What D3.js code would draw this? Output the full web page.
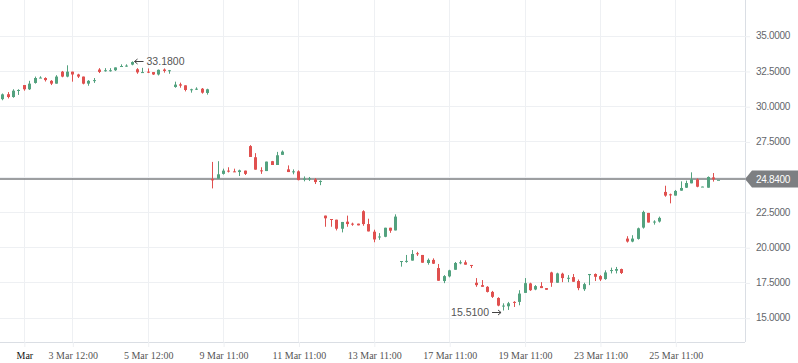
<!DOCTYPE html>
<html>
<head>
<meta charset="utf-8">
<script src="https://cdn.jsdelivr.net/npm/d3@7"></script>
<style>
  body { margin: 0; background: #fff; }
  svg { display: block; }
</style>
</head>
<body>
<div class="chart"></div>
<script>
// hourly candles, 27 Feb -> 26 Mar
var opens  = [30.5,30.85,30.65,31.1,31.5,31.2,31.65,32.0,32.0,31.8,31.6,32.45,32.1,32.45,32.25,32.1,31.6,31.8,32.6,32.5,
              32.5,32.55,32.82,32.85,32.95,32.62,32.4,32.45,32.42,32.25,32.6,32.52,31.36,31.55,31.48,31.13,31.2,31.24,30.94,
              24.83,24.86,25.2,25.43,25.38,25.33,25.43,27.17,26.38,25.45,25.4,26.1,25.83,26.55,25.52,25.33,25.38,24.8,24.84,24.81,24.66,
              22.24,22.0,21.95,21.31,21.81,21.67,21.67,22.55,21.64,21.1,20.7,20.74,21.38,21.19,
              18.98,18.97,19.05,19.57,19.45,18.88,19.1,18.52,17.6,17.93,18.4,18.88,18.93,18.74,
              17.48,17.31,17.19,16.83,16.4,15.8,15.81,16.12,16.12,16.76,17.43,17.0,17.24,17.1,
              18.21,17.48,18.12,17.76,17.88,17.6,17.02,18.02,18.1,17.95,17.74,18.31,18.33,18.45,
              20.61,20.4,20.59,21.39,22.43,21.75,21.82,23.92,23.75,23.66,24.01,24.22,24.53,24.81,24.27,24.22,24.95,24.78]
var highs  = [30.9,31.0,31.2,31.2,31.5,31.8,32.1,32.12,32.05,31.85,32.2,32.5,32.9,32.45,32.3,32.1,31.85,32.0,32.7,32.7,
              32.7,32.75,32.97,32.97,33.18,32.7,32.72,32.68,32.42,32.6,32.68,32.57,31.74,31.67,31.48,31.24,31.34,31.29,31.24,
              26.05,26.1,25.57,25.67,25.57,25.5,25.43,27.24,26.67,25.67,26.07,26.12,26.76,26.86,25.8,25.52,25.45,25.02,24.98,24.9,24.74,
              22.24,22.0,21.95,21.79,22.24,21.74,21.67,22.62,22.02,21.24,21.0,21.38,21.38,22.33,
              19.02,19.45,19.8,19.67,19.45,19.2,19.21,18.81,18.02,18.4,18.95,19.07,19.07,18.74,
              17.81,17.67,17.24,16.9,16.45,16.02,16.12,16.17,16.95,17.81,17.48,17.31,17.52,17.1,
              18.26,18.19,18.19,18.02,18.1,17.71,17.48,18.1,18.14,18.02,18.36,18.55,18.6,18.48,
              20.78,20.85,21.39,22.59,22.43,21.91,22.17,24.36,23.8,24.06,24.67,24.72,25.31,24.88,24.3,25.02,25.26,24.78]
var lows   = [30.42,30.55,30.6,30.8,31.1,31.15,31.6,32.0,31.75,31.5,31.6,32.05,32.05,31.74,32.0,31.55,31.45,31.65,32.35,32.45,
              32.45,32.5,32.82,32.8,32.9,32.3,32.38,32.35,32.22,32.18,32.38,32.3,31.31,31.31,31.05,30.96,31.15,30.89,30.82,
              24.17,24.86,25.15,25.3,25.33,25.05,25.12,26.4,25.5,25.2,25.4,25.83,25.83,26.55,25.33,25.17,24.74,24.67,24.7,24.48,24.4,
              21.45,21.45,21.19,21.05,21.45,21.52,21.55,21.52,21.12,20.35,20.52,20.71,21.02,21.19,
              18.62,18.9,19.05,19.38,18.9,18.76,18.81,17.62,17.45,17.86,18.4,18.79,18.76,18.52,
              17.19,17.19,16.79,16.4,15.81,15.51,15.55,15.76,15.88,16.76,16.9,16.95,17.1,16.98,
              17.19,17.48,17.52,17.52,17.55,16.95,16.9,17.31,17.6,17.6,17.69,18.14,18.14,18.1,
              20.33,20.35,20.54,21.32,21.75,21.6,21.75,23.58,23.11,23.66,24.01,24.2,24.53,24.25,24.27,24.22,24.65,24.78]
var closes = [30.84,30.65,31.1,31.15,31.2,31.6,32.0,32.03,31.85,31.6,32.1,32.1,32.45,32.25,32.1,31.6,31.8,31.85,32.43,32.55,
              32.55,32.75,32.85,32.88,33.13,32.4,32.42,32.4,32.25,32.58,32.5,32.55,31.53,31.46,31.15,31.2,31.24,30.96,31.2,
              24.74,25.17,25.43,25.37,25.33,25.45,25.2,26.4,25.5,25.38,26.07,25.83,26.52,26.78,25.33,25.38,24.76,24.86,24.88,24.62,24.7,
              22.05,21.95,21.31,21.79,21.64,21.6,21.55,21.64,21.12,20.55,20.76,21.38,21.17,22.17,
              19.02,19.03,19.52,19.5,18.9,19.1,18.83,17.62,17.95,18.36,18.88,18.93,18.76,18.69,
              17.31,17.19,16.83,16.48,15.86,15.86,16.02,16.07,16.71,17.45,16.95,17.24,17.1,16.98,
              17.48,18.14,17.81,17.83,17.55,17.1,17.38,18.1,17.9,17.71,18.21,18.38,18.45,18.17,
              20.4,20.61,21.34,22.5,21.75,21.82,22.08,23.66,23.7,23.99,24.2,24.55,24.81,24.29,24.3,24.98,24.81,24.78]

var tickIdx    = [4, 13, 27, 41, 55, 69, 83, 97, 111, 125]
var tickLabels = ["Mar", "3 Mar 12:00", "5 Mar 12:00", "9 Mar 11:00", "11 Mar 11:00",
                  "13 Mar 11:00", "17 Mar 11:00", "19 Mar 11:00", "23 Mar 11:00", "25 Mar 11:00"]
var yTicks = [15, 17.5, 20, 22.5, 25, 27.5, 30, 32.5, 35]
var lastPrice = 24.84
var maxIdx = 24, maxVal = 33.18
var minIdx = 93, minVal = 15.51

var width = 798, height = 363
var plotW = 745, plotH = 342
var up = "#53a27f", down = "#e0504f"
var grid = "#eef0f3", border = "#dadee4"
var noteFont = "Liberation Sans, Arial, sans-serif"

var data = opens.map(function (o, i) {
  return { i: i, o: o, h: highs[i], l: lows[i], c: closes[i] }
})

var svg = d3.select(".chart")
  .append("svg")
    .attr("width", width)
    .attr("height", height)

// scales
var x = d3.scaleLinear().domain([0, 133]).range([2.33, 718.4])
var y = d3.scaleLinear().domain([15, 35]).range([317.7, 35.7])
var py = Math.round(y(lastPrice))

// grid
svg.append("g").selectAll("line").data(yTicks).join("line")
  .attr("x1", 0).attr("x2", plotW)
  .attr("y1", d => Math.round(y(d)) + 0.5).attr("y2", d => Math.round(y(d)) + 0.5)
  .attr("stroke", grid)
svg.append("g").selectAll("line").data(tickIdx).join("line")
  .attr("y1", 0).attr("y2", plotH)
  .attr("x1", d => Math.round(x(d)) + 0.5).attr("x2", d => Math.round(x(d)) + 0.5)
  .attr("stroke", grid)

// frame
svg.append("line").attr("x1", plotW + 0.5).attr("x2", plotW + 0.5).attr("y1", 0).attr("y2", plotH)
  .attr("stroke", border)
svg.append("line").attr("x1", 0).attr("x2", plotW).attr("y1", plotH + 0.5).attr("y2", plotH + 0.5)
  .attr("stroke", border)

// right axis (the label hidden under the price tag is left out)
var yAxis = svg.append("g")
  .attr("transform", `translate(${plotW},0)`)
  .call(d3.axisRight(y).tickValues(yTicks.filter(d => Math.abs(y(d) - py) > 12))
    .tickSize(5).tickPadding(6).tickFormat(d3.format(".4f")))
yAxis.select(".domain").remove()
yAxis.selectAll("line").attr("stroke", grid).attr("transform", "translate(0,0.5)")
yAxis.selectAll("text")
  .attr("fill", "#63666b")
  .attr("font-family", noteFont)
  .attr("font-size", "10px")
  .attr("letter-spacing", "-0.3")

// bottom axis
var xAxis = svg.append("g")
  .attr("transform", `translate(0.5,${plotH})`)
  .call(d3.axisBottom(x).tickValues(tickIdx).tickSize(5).tickPadding(5)
    .tickFormat((d, i) => tickLabels[i]))
xAxis.select(".domain").remove()
xAxis.selectAll("line").attr("stroke", grid)
xAxis.selectAll("text")
  .attr("fill", (d, i) => i === 0 ? "#111" : "#555")
  .attr("font-family", "Liberation Serif, Times New Roman, serif")
  .attr("font-size", "10px")

// last price line
svg.append("line")
  .attr("x1", 0).attr("x2", plotW)
  .attr("y1", py).attr("y2", py)
  .attr("stroke", "#7d7f82").attr("stroke-width", 1.5)

// candles
var candles = svg.append("g").selectAll("g").data(data).join("g")
candles.append("line")
  .attr("x1", d => Math.round(x(d.i)) + 0.5).attr("x2", d => Math.round(x(d.i)) + 0.5)
  .attr("y1", d => y(d.h)).attr("y2", d => y(d.l))
  .attr("stroke", d => d.c >= d.o ? up : down)
candles.append("rect")
  .attr("x", d => Math.round(x(d.i)) - 1)
  .attr("width", 3)
  .attr("y", d => y(Math.max(d.o, d.c)))
  .attr("height", d => Math.max(1, Math.abs(y(d.o) - y(d.c))))
  .attr("fill", d => d.c >= d.o ? up : down)

// high / low annotations with small arrows
function arrow(x1, x2, yy) {
  // arrow from x1 pointing at x2
  var dir = x2 > x1 ? -1 : 1
  var g = svg.append("g").attr("stroke", "#444").attr("fill", "none").attr("stroke-width", 1)
  g.append("line").attr("x1", x1).attr("x2", x2).attr("y1", yy).attr("y2", yy)
  g.append("path").attr("d", `M${x2 + dir * 3},${yy - 2.5} L${x2},${yy} L${x2 + dir * 3},${yy + 2.5}`)
}
var hx = x(maxIdx), hy = Math.round(y(maxVal)) + 0.5
arrow(hx + 12, hx + 3, hy)
svg.append("text").attr("x", hx + 15).attr("y", hy).attr("dy", "0.35em")
  .attr("font-family", noteFont).attr("font-size", "10.5px").attr("fill", "#555")
  .text("33.1800")
var lx = x(minIdx), ly = Math.round(y(minVal)) + 1.5
arrow(lx - 11, lx - 2, ly)
svg.append("text").attr("x", lx - 14).attr("y", ly).attr("dy", "0.35em")
  .attr("text-anchor", "end")
  .attr("font-family", noteFont).attr("font-size", "10.5px").attr("fill", "#555")
  .text("15.5100")

// last price tag
svg.append("path")
  .attr("d", `M${plotW},${py} L${plotW + 7},${py - 8.5} L${width},${py - 8.5} L${width},${py + 8.5} L${plotW + 7},${py + 8.5} Z`)
  .attr("fill", "#7d7f82")
svg.append("text")
  .attr("x", plotW + 11).attr("y", py).attr("dy", "0.35em")
  .attr("font-family", noteFont).attr("font-size", "10px").attr("fill", "#fff")
  .attr("letter-spacing", "-0.3")
  .text(d3.format(".4f")(lastPrice))
</script>
</body>
</html>
